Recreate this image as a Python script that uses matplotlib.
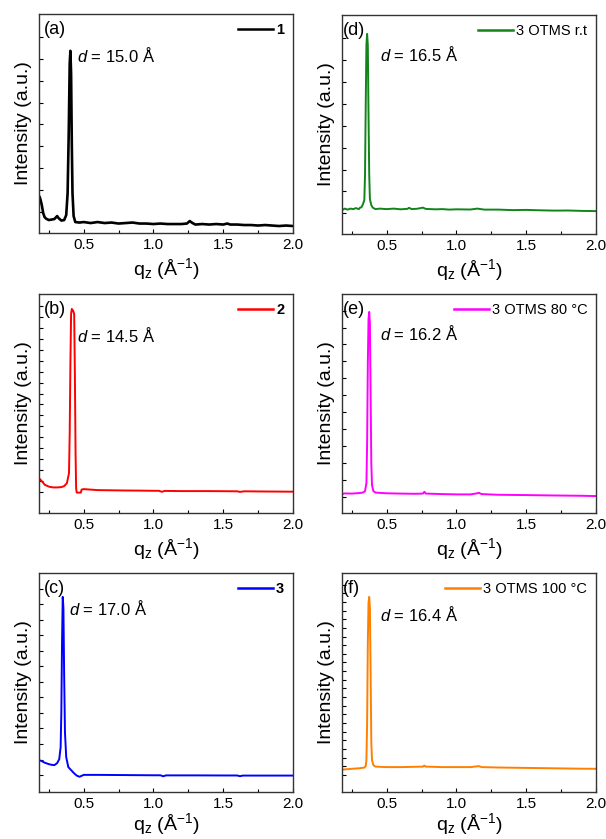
import numpy as np
import matplotlib
matplotlib.use('Agg')
import matplotlib.pyplot as plt

plt.rcParams['font.family'] = ['Liberation Sans', 'DejaVu Sans']
plt.rcParams['mathtext.fontset'] = 'custom'
plt.rcParams['mathtext.rm'] = 'Liberation Sans'
plt.rcParams['mathtext.it'] = 'Liberation Sans:italic'

# (a) sample 1
q_a = [0.185, 0.19, 0.20, 0.21, 0.22, 0.23, 0.25, 0.27, 0.29, 0.31, 0.32, 0.34, 0.36, 0.375,
       0.385, 0.393, 0.40, 0.405, 0.41, 0.415, 0.42, 0.428, 0.44, 0.47, 0.50, 0.55, 0.60, 0.65,
       0.70, 0.75, 0.80, 0.85, 0.90, 0.95, 1.00, 1.05, 1.10, 1.15, 1.20, 1.24, 1.26, 1.28, 1.30,
       1.35, 1.40, 1.45, 1.50, 1.53, 1.55, 1.60, 1.65, 1.70, 1.75, 1.80, 1.85, 1.90, 1.95, 2.00]
I_a = [36, 34, 28, 20, 16, 14.5, 13, 13.5, 14, 17, 15, 12.5, 13, 18,
       40, 100, 170, 183, 160, 90, 40, 17, 11, 10.5, 11, 10, 11, 10,
       10.5, 9.5, 10, 10.5, 9.5, 9.5, 9, 9.5, 9, 9, 9, 9.5, 12, 10, 8.5,
       9, 8.5, 9, 8.5, 9.5, 8.5, 8.5, 8, 8, 7.5, 8, 7.5, 7, 7.5, 7]

# (b) sample 2
q_b = [0.18, 0.20, 0.22, 0.25, 0.28, 0.31, 0.34, 0.36, 0.38, 0.395, 0.40, 0.405, 0.41, 0.415,
       0.425, 0.432, 0.437, 0.442, 0.446, 0.45, 0.48, 0.485, 0.50, 0.55, 0.60, 0.70, 0.80, 0.90,
       1.00, 1.04, 1.06, 1.08, 1.20, 1.40, 1.60, 1.62, 1.65, 1.80, 2.00]
I_b = [35, 32, 28.5, 26.5, 25.7, 25.7, 26, 27, 30, 40, 80, 150, 200, 205,
       203, 200, 140, 60, 25, 20.5, 20.5, 23.5, 24, 23.5, 23, 22.8, 22.6, 22.5,
       22.3, 22.3, 21.3, 22.2, 22, 22, 21.8, 21.2, 21.8, 21.6, 21.4]

# (c) sample 3
q_c = [0.18, 0.20, 0.22, 0.25, 0.27, 0.29, 0.31, 0.325, 0.335, 0.34, 0.345, 0.35, 0.355, 0.36,
       0.366, 0.375, 0.39, 0.41, 0.43, 0.45, 0.47, 0.49, 0.50, 0.60, 0.80, 1.00, 1.05, 1.07,
       1.09, 1.30, 1.50, 1.60, 1.62, 1.64, 1.80, 2.00]
I_c = [32, 31, 29.5, 28, 27.3, 27, 29, 33, 45, 80, 150, 196, 185, 120,
       60, 35, 25, 22, 19, 16.5, 15.3, 16.5, 17.2, 17.2, 17.0, 16.8, 16.8, 15.8,
       16.7, 16.7, 16.6, 16.6, 15.9, 16.5, 16.5, 16.5]

# (d) 3 OTMS r.t
q_d = [0.18, 0.20, 0.22, 0.24, 0.26, 0.28, 0.30, 0.31, 0.32, 0.33, 0.34, 0.345, 0.35, 0.355,
       0.36, 0.365, 0.37, 0.375, 0.38, 0.39, 0.40, 0.42, 0.45, 0.50, 0.55, 0.60, 0.65, 0.66,
       0.68, 0.72, 0.76, 0.78, 0.85, 0.90, 0.95, 1.00, 1.10, 1.15, 1.20, 1.30, 1.40, 1.50,
       1.60, 1.70, 1.80, 1.90, 2.00]
I_d = [24, 25.5, 24.5, 25.5, 25, 26, 25, 26.5, 27, 30, 34, 60, 130, 190,
       201, 190, 120, 60, 35, 29, 26.5, 25, 25.5, 25, 25.5, 24.8, 25.3, 26.3,
       25, 25.4, 26.5, 25.2, 24.8, 25, 24.5, 24.8, 24.6, 25.5, 24.5, 24.5, 24, 24.2,
       23.8, 23.5, 23.6, 23.2, 23]

# (e) 3 OTMS 80 °C
q_e = [0.18, 0.20, 0.25, 0.30, 0.33, 0.345, 0.355, 0.36, 0.365, 0.37, 0.375, 0.38, 0.385, 0.39,
       0.395, 0.405, 0.42, 0.50, 0.60, 0.70, 0.76, 0.77, 0.78, 0.90, 1.00, 1.10, 1.15, 1.16,
       1.18, 1.30, 1.50, 1.70, 1.90, 2.00]
I_e = [19, 19.7, 19.5, 20, 20.5, 22, 30, 70, 150, 195, 202, 190, 120, 50,
       28, 22, 20.5, 19.8, 19.5, 19.3, 19.5, 21.3, 19.5, 19, 18.7, 18.7, 19.8, 20.3,
       19, 18.3, 18, 17.6, 17.3, 17]

# (f) 3 OTMS 100 °C
q_f = [0.18, 0.20, 0.25, 0.30, 0.34, 0.35, 0.355, 0.36, 0.365, 0.37, 0.375, 0.38, 0.385, 0.39,
       0.395, 0.405, 0.42, 0.50, 0.60, 0.70, 0.76, 0.77, 0.78, 0.90, 1.00, 1.10, 1.15, 1.16,
       1.18, 1.30, 1.50, 1.70, 1.90, 2.00]
I_f = [22.5, 22.7, 23.3, 23.8, 24.5, 26, 32, 70, 150, 190, 196, 185, 120, 50,
       32, 27, 25.5, 25, 25, 25.3, 25.5, 26.5, 25.5, 25, 25, 25, 25.8, 26,
       25, 24.6, 24.2, 23.8, 23.4, 23.3]

panel_tags = ['(a)', '(b)', '(c)', '(d)', '(e)', '(f)']
legend_names = ['1', '2', '3', '3 OTMS r.t', '3 OTMS 80 °C', '3 OTMS 100 °C']
d_spacings = ['15.0', '14.5', '17.0', '16.5', '16.2', '16.4']
colors = ['black', '#ff0000', '#0000ff', '#11851a', '#ff00ff', '#ff8000']

qs = [q_a, q_b, q_c, q_d, q_e, q_f]
Is = [I_a, I_b, I_c, I_d, I_e, I_f]

fig = plt.figure(figsize=(6.06, 8.39), dpi=100)

W, H = 606., 839.
lefts = [39, 39, 39, 342, 342, 342]
tops = [14, 294, 573, 15, 294, 573]
# y tick start / step per panel (pixels of intensity)
ytick_setup = [(21, 22), (21, 11), (17, 15.6), (20.7, 22), (16.3, 17), (17, 8.7)]
d_pos = [(0.15, 0.81), (0.15, 0.81), (0.118, 0.84), (0.15, 0.82), (0.15, 0.82), (0.15, 0.81)]
tag_x = [0.02, 0.02, 0.02, 0.004, 0.004, 0.004]

for i in range(6):
    ax = fig.add_axes([lefts[i] / W, 1 - (tops[i] + 219) / H, 254 / W, 219 / H])
    lw = 1.9 if i == 0 else 1.4
    ax.plot(qs[i], Is[i], color=colors[i], lw=lw, label=legend_names[i])
    ax.set_xlim(0.18, 2.0)
    ax.set_ylim(0, 220)
    ax.set_xticks([0.5, 1.0, 1.5, 2.0])
    ax.set_xticklabels(['0.5', '1.0', '1.5', '2.0'])
    ax.set_xticks(np.arange(0.25, 2.0, 0.25), minor=True)
    y0, st = ytick_setup[i]
    ax.set_yticks(np.arange(y0, 215, st))
    ax.tick_params(axis='both', direction='in', top=False, right=False, length=3, width=0.8,
                   labelsize=11)
    ax.tick_params(axis='x', which='minor', direction='in', length=2, width=0.8)
    ax.tick_params(axis='y', labelleft=False)
    for s in ax.spines.values():
        s.set_linewidth(1.0)
        s.set_color('#333333')
    ax.set_ylabel('Intensity (a.u.)', fontsize=14, labelpad=5)
    pad = 0 if i in (2, 5) else 3
    ax.set_xlabel('q$_\\mathrm{z}$ (Å$^{-1}$)', fontsize=14, labelpad=pad)
    ax.text(tag_x[i], 0.93, panel_tags[i], transform=ax.transAxes, fontsize=13,
            ha='left', va='center')
    ax.text(d_pos[i][0], d_pos[i][1], '$d$ = %s Å' % d_spacings[i], transform=ax.transAxes,
            fontsize=12, ha='left', va='center')
    leg = ax.legend(loc='upper right', frameon=False, handlelength=2.4, handletextpad=0.2,
                    borderaxespad=0.2, fontsize=10.5)
    for ln in leg.get_lines():
        ln.set_linewidth(1.8)
    if i < 3:
        for t in leg.get_texts():
            t.set_fontweight('bold')

plt.savefig('out.png', dpi=100)
